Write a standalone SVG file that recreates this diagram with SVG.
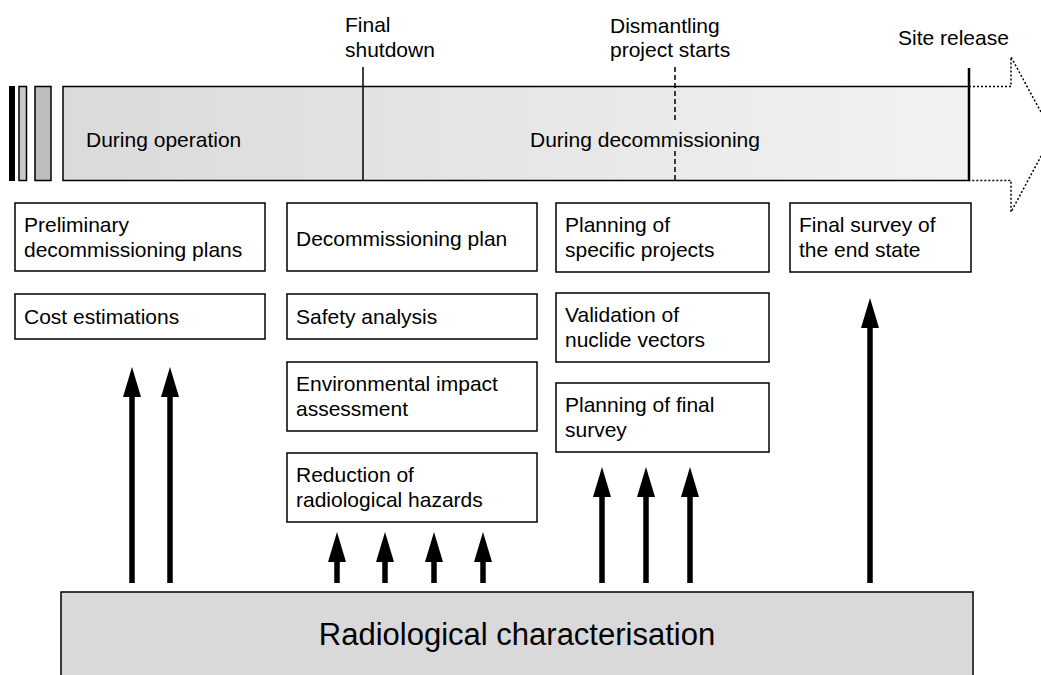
<svg xmlns="http://www.w3.org/2000/svg" width="1041" height="675" viewBox="0 0 1041 675">
<defs>
<linearGradient id="tl" x1="0" y1="0" x2="1" y2="0">
<stop offset="0" stop-color="#dadada"/>
<stop offset="1" stop-color="#f2f2f2"/>
</linearGradient>
<marker id="ah" markerUnits="userSpaceOnUse" markerWidth="30" markerHeight="18" viewBox="0 0 30 18" refX="2" refY="9" orient="auto">
<path d="M0,0 L30,9 L0,18 z" fill="#000"/>
</marker>
</defs>
<style>
text{font-family:"Liberation Sans",Arial,sans-serif;font-size:21px;fill:#000}
.box{fill:#fff;stroke:#000;stroke-width:1.5}
.arr{stroke:#000;stroke-width:5.5;fill:none;marker-end:url(#ah)}
</style>
<g id="timeline">
<rect x="9" y="86" width="6" height="95" fill="#000"/>
<rect x="19" y="86.5" width="7.5" height="94" fill="#c8c8c8" stroke="#000" stroke-width="1.5"/>
<rect x="35" y="86.5" width="16" height="94" fill="#bdbdbd" stroke="#000" stroke-width="1.5"/>
<rect x="63" y="86.5" width="906" height="94" fill="url(#tl)" stroke="#000" stroke-width="1.5"/>
<path d="M969,86.5 H1011 V57 L1053,134 L1011,212 V180.5 H969" fill="none" stroke="#000" stroke-width="1.5" stroke-dasharray="2,2"/>
<line x1="363" y1="67" x2="363" y2="181" stroke="#000" stroke-width="1.5"/>
<line x1="675" y1="67" x2="675" y2="123" stroke="#000" stroke-width="1.5" stroke-dasharray="5,3"/>
<line x1="675" y1="151" x2="675" y2="181" stroke="#000" stroke-width="1.5" stroke-dasharray="5,3"/>
<line x1="969" y1="68" x2="969" y2="181" stroke="#000" stroke-width="2.5"/>
<text x="86" y="147">During operation</text>
<text x="530" y="147">During decommissioning</text>
<text x="345" y="32">Final</text>
<text x="345" y="57">shutdown</text>
<text x="610" y="33">Dismantling</text>
<text x="610" y="57">project starts</text>
<text x="898" y="45">Site release</text>
</g>
<g id="n-prelim"><rect class="box" x="15" y="203" width="250" height="68"/><text x="24" y="232">Preliminary</text><text x="24" y="257">decommissioning plans</text></g>
<g id="n-cost"><rect class="box" x="15" y="294" width="250" height="45"/><text x="24" y="324">Cost estimations</text></g>
<g id="n-dplan"><rect class="box" x="287" y="203" width="250" height="68"/><text x="296" y="246">Decommissioning plan</text></g>
<g id="n-safety"><rect class="box" x="287" y="294" width="250" height="45"/><text x="296" y="324">Safety analysis</text></g>
<g id="n-env"><rect class="box" x="287" y="362" width="250" height="69"/><text x="296" y="391">Environmental impact</text><text x="296" y="416">assessment</text></g>
<g id="n-reduction"><rect class="box" x="287" y="453" width="250" height="69"/><text x="296" y="482">Reduction of</text><text x="296" y="507">radiological hazards</text></g>
<g id="n-specific"><rect class="box" x="556" y="203" width="213" height="69"/><text x="565" y="232">Planning of</text><text x="565" y="257">specific projects</text></g>
<g id="n-validation"><rect class="box" x="556" y="293" width="213" height="69"/><text x="565" y="322">Validation of</text><text x="565" y="347">nuclide vectors</text></g>
<g id="n-finalplan"><rect class="box" x="556" y="383" width="213" height="69"/><text x="565" y="412">Planning of final</text><text x="565" y="437">survey</text></g>
<g id="n-finalsurvey"><rect class="box" x="790" y="203" width="181" height="69"/><text x="799" y="232">Final survey of</text><text x="799" y="257">the end state</text></g>
<g id="n-radchar"><rect x="61" y="592" width="912" height="100" fill="#d9d9d9" stroke="#000" stroke-width="1.5"/><text x="517" y="645" text-anchor="middle" style="font-size:31px">Radiological characterisation</text></g>
<g id="connectors">
<line class="arr" x1="132" y1="583" x2="132" y2="395"/>
<line class="arr" x1="170" y1="583" x2="170" y2="395"/>
<line class="arr" x1="337" y1="583" x2="337" y2="560"/>
<line class="arr" x1="385" y1="583" x2="385" y2="560"/>
<line class="arr" x1="434" y1="583" x2="434" y2="560"/>
<line class="arr" x1="483" y1="583" x2="483" y2="560"/>
<line class="arr" x1="602" y1="583" x2="602" y2="495"/>
<line class="arr" x1="646" y1="583" x2="646" y2="495"/>
<line class="arr" x1="690" y1="583" x2="690" y2="495"/>
<line class="arr" x1="870" y1="583" x2="870" y2="326"/>
</g>
</svg>
